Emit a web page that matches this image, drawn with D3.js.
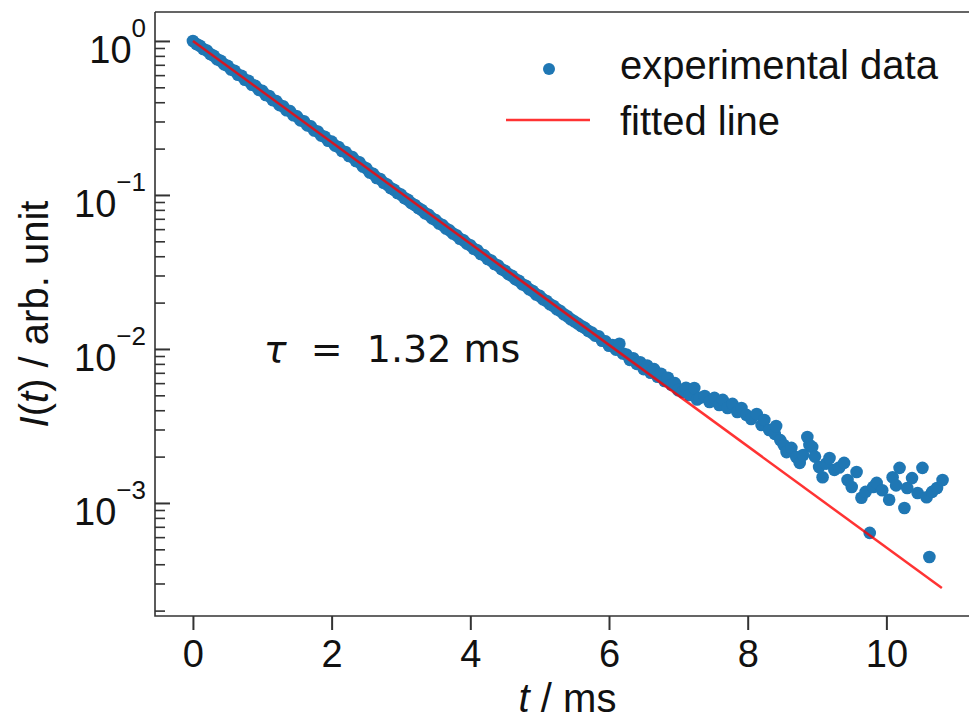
<!DOCTYPE html>
<html><head><meta charset="utf-8">
<script src="https://cdn.jsdelivr.net/npm/d3@7"></script>
<style>body{margin:0;background:#fff;overflow:hidden;} svg{display:block;}</style>
</head><body><svg id="c" width="969" height="720"></svg>
<script>
// ---- data ----
const timeMs = [
0.00,0.05,0.10,0.15,0.20,0.25,0.30,0.35,0.40,0.45,0.50,0.55,0.60,0.65,0.70,0.75,0.80,0.85,0.90,0.95,
1.00,1.05,1.10,1.15,1.20,1.25,1.30,1.35,1.40,1.45,1.50,1.55,1.60,1.65,1.70,1.75,1.80,1.85,1.90,1.95,
2.00,2.05,2.10,2.15,2.20,2.25,2.30,2.35,2.40,2.45,2.50,2.55,2.60,2.65,2.70,2.75,2.80,2.85,2.90,2.95,
3.00,3.05,3.10,3.15,3.20,3.25,3.30,3.35,3.40,3.45,3.50,3.55,3.60,3.65,3.70,3.75,3.80,3.85,3.90,3.95,
4.00,4.05,4.10,4.15,4.20,4.25,4.30,4.35,4.40,4.45,4.50,4.55,4.60,4.65,4.70,4.75,4.80,4.85,4.90,4.95,
5.00,5.05,5.10,5.15,5.20,5.25,5.30,5.35,5.40,5.45,5.50,5.55,5.60,5.65,5.70,5.75,5.80,5.85,5.90,5.95,
6.00,6.05,6.10,6.15,6.20,6.25,6.30,6.35,6.40,6.45,6.50,6.55,6.60,6.65,6.70,6.75,6.80,6.85,6.90,6.95,
7.00,7.06,7.11,7.16,7.23,7.27,7.31,7.38,7.45,7.52,7.59,7.64,7.71,7.78,7.85,7.91,7.98,
8.05,8.13,8.20,8.24,8.31,8.39,8.41,8.47,8.52,8.56,8.63,8.70,8.75,8.80,8.86,8.89,8.93,8.97,
9.03,9.08,9.13,9.18,9.25,9.32,9.39,9.44,9.50,9.57,9.64,9.70,9.76,9.81,9.86,9.94,
10.04,10.09,10.14,10.19,10.26,10.30,10.37,10.45,10.52,10.58,10.62,10.66,10.73,10.81
];
const intensity = [
1.000,0.955,0.931,0.886,0.866,0.822,0.801,0.760,0.744,0.705,0.690,0.652,0.641,0.604,0.594,0.560,0.551,0.519,0.511,0.481,
0.474,0.446,0.439,0.413,0.407,0.383,0.377,0.355,0.350,0.329,0.324,0.305,0.301,0.283,0.279,0.262,0.258,0.243,0.239,0.225,
0.222,0.209,0.205,0.193,0.190,0.179,0.176,0.166,0.163,0.153,0.149,0.140,0.137,0.129,0.127,0.120,0.117,0.111,0.108,0.1030,
0.1005,0.0955,0.0930,0.0885,0.0860,0.0822,0.0798,0.0760,0.0742,0.0705,0.0686,0.0652,0.0637,0.0606,0.0589,0.0562,0.0548,0.0520,0.0508,0.0483,
0.0471,0.0447,0.0437,0.0414,0.0405,0.0384,0.0375,0.0356,0.0348,0.0330,0.0322,0.0306,0.0299,0.0284,0.0277,0.0263,0.0257,0.0244,0.0238,0.0226,
0.0221,0.0210,0.0205,0.0195,0.0190,0.0181,0.0176,0.0168,0.0163,0.0156,0.0151,0.0146,0.0141,0.0137,0.0131,0.0128,0.0122,0.0121,0.0113,0.0112,
0.0105,0.0106,0.00990,0.0108,0.00935,0.00920,0.00850,0.00870,0.00800,0.00820,0.00740,0.00780,0.00700,0.00740,0.00660,0.00690,0.00620,0.00650,0.00585,0.00600,
0.00540,0.00526,0.00560,0.00502,0.00558,0.00470,0.00481,0.00495,0.00453,0.00481,0.00433,0.00467,0.00414,0.00440,0.00390,0.00414,0.00373,
0.00351,0.00378,0.00321,0.00346,0.00298,0.00281,0.00316,0.00256,0.00238,0.00214,0.00228,0.00199,0.00182,0.00205,0.00268,0.00238,0.00231,0.00200,
0.00171,0.00147,0.00180,0.00196,0.00164,0.00170,0.00182,0.00141,0.00127,0.00159,0.00108,0.00118,0.000639,0.00127,0.00135,0.00121,
0.00105,0.00147,0.00130,0.00169,0.000928,0.00125,0.00145,0.00116,0.00169,0.00109,0.000446,0.00118,0.00125,0.00141
];
const fitTime = [0, 10.8];
const fitIntensity = [1.0, 2.8e-4];
const xTickValues = [0, 2, 4, 6, 8, 10];
const yTickExponents = [0, -1, -2, -3];
const legendLabels = ["experimental data", "fitted line"];
const tauLabel = "1.32 ms";

// ---- layout ----
const svg = d3.select("#c");
const L = 155, T = 12, R = 980, B = 616;
const x = d3.scaleLinear().domain([-0.547, 11.35]).range([L, R]);
const y = d3.scaleLog().domain([Math.pow(10, -3.734), Math.pow(10, 0.188)]).range([B, T]);
const blue = "#1f77b4";
const tickFont = "'Liberation Sans', Arial, sans-serif";

// points
const pts = timeMs.map((t, i) => ({t, v: intensity[i]}));
svg.append("g").selectAll("circle").data(pts).join("circle")
  .attr("cx", d => x(d.t)).attr("cy", d => y(d.v)).attr("r", 6.3).attr("fill", blue);

// fitted line
const fit = fitTime.map((t, i) => ({t, v: fitIntensity[i]}));
svg.append("path").datum(fit)
  .attr("d", d3.line().x(d => x(d.t)).y(d => y(d.v)))
  .attr("fill", "none").attr("stroke", "red").attr("stroke-opacity", 0.8).attr("stroke-width", 2.5);

// y axis: major ticks inward
const yMajor = yTickExponents.map(e => Math.pow(10, e));
const yMinor = [];
for (let e = -4; e <= 0; e++) for (let k = 2; k <= 9; k++) {
  const v = k * Math.pow(10, e);
  if (v >= y.domain()[0] && v <= y.domain()[1]) yMinor.push(v);
}
const gyMinor = svg.append("g").attr("transform", `translate(${L},0)`)
  .call(d3.axisLeft(y).tickValues(yMinor).tickSize(-10).tickFormat(""));
gyMinor.select(".domain").remove();
gyMinor.selectAll("line").attr("stroke", "#333").attr("stroke-width", 1.6);

const gy = svg.append("g").attr("transform", `translate(${L},0)`)
  .call(d3.axisLeft(y).tickValues(yMajor).tickSize(-15).tickPadding(9));
gy.select(".domain").remove();
gy.selectAll("line").attr("stroke", "#333").attr("stroke-width", 2);
gy.selectAll("text").each(function(d) {
  const e = Math.round(Math.log10(d));
  const t = d3.select(this).text(null).attr("dy", null).attr("y", 22)
    .attr("font-family", tickFont).attr("fill", "#111").attr("text-anchor", "end");
  t.append("tspan").attr("font-size", 38).text("10");
  t.append("tspan").attr("font-size", 26).attr("dy", -26).text(e === 0 ? "0" : "\u2212" + Math.abs(e));
});

// x axis: ticks outward
const gx = svg.append("g").attr("transform", `translate(0,${B})`)
  .call(d3.axisBottom(x).tickValues(xTickValues).tickSize(14).tickPadding(10).tickFormat(d3.format("d")));
gx.select(".domain").remove();
gx.selectAll("line").attr("stroke", "#333").attr("stroke-width", 2);
gx.selectAll("text").attr("font-family", tickFont).attr("font-size", 38).attr("fill", "#111");

// spines (left, top, bottom; right lies outside the picture)
svg.append("path").attr("d", `M${L},${T}H${R}M${L},${T}V${B}H${R}`)
  .attr("fill", "none").attr("stroke", "#333").attr("stroke-width", 1.6);

// axis labels
svg.append("text").attr("x", (L + R) / 2).attr("y", 712).attr("text-anchor", "middle")
  .attr("font-family", tickFont).attr("font-size", 40).attr("fill", "#111").style("white-space", "pre")
  .html('<tspan font-style="italic">t</tspan> / ms');
svg.append("text").attr("transform", `translate(48,${(T + B) / 2}) rotate(-90)`).attr("text-anchor", "middle")
  .attr("font-family", tickFont).attr("font-size", 40).attr("fill", "#111")
  .html('<tspan font-style="italic">I</tspan>(<tspan font-style="italic">t</tspan>) / arb. unit');

// tau annotation
svg.append("text").attr("x", x(1.02)).attr("y", y(0.0082))
  .attr("font-family", "'DejaVu Sans', sans-serif").attr("font-size", 38).attr("fill", "#111")
  .style("white-space", "pre")
  .html('<tspan font-style="italic">\u03c4</tspan>  =  ' + tauLabel);

// legend
const lg = svg.append("g").attr("font-family", tickFont).attr("font-size", 40).attr("fill", "#111");
lg.append("circle").attr("cx", 549).attr("cy", 69).attr("r", 6).attr("fill", blue);
lg.append("line").attr("x1", 506).attr("x2", 590).attr("y1", 120).attr("y2", 120)
  .attr("stroke", "red").attr("stroke-opacity", 0.8).attr("stroke-width", 2.5);
lg.append("text").attr("x", 620).attr("y", 79).text(legendLabels[0]);
lg.append("text").attr("x", 620).attr("y", 135).text(legendLabels[1]);
</script></body></html>
